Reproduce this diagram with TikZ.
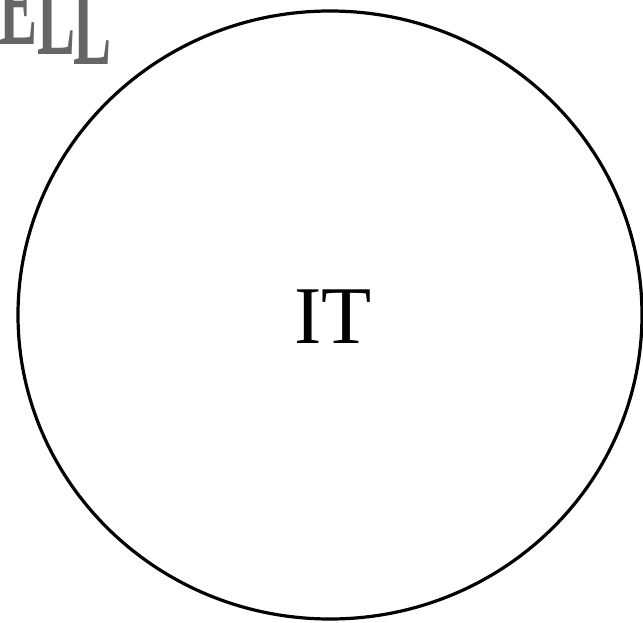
\documentclass[tikz,border=0pt]{standalone}
\usepackage{fontspec}
\setmainfont{Liberation Serif}
\usetikzlibrary{shapes.geometric}
\begin{document}
\begin{tikzpicture}[x=1pt,y=-1pt,
  ring/.style={draw=black,line width=3.2pt},
  title/.style={font=\fontsize{82}{82}\selectfont,text=black},
  wordart/.style={font=\fontsize{60}{60}\selectfont\bfseries,text=gray!80!black,xscale=0.95,yscale=2,inner sep=0pt,anchor=base east}]
\useasboundingbox (0,0) rectangle (643,623);
\begin{scope}
\clip (0,0) rectangle (643,623);
\node[wordart] (l1) at (38,45) {E};
\node[wordart] (l2) at (76,55) {L};
\node[wordart] (l3) at (112,65) {L};
\end{scope}
\node[ring,ellipse,minimum width=624pt,minimum height=608pt,inner sep=0pt] (c) at (330,315) {};
\node[title] (it) at (333,317) {IT};
\end{tikzpicture}
\end{document}
